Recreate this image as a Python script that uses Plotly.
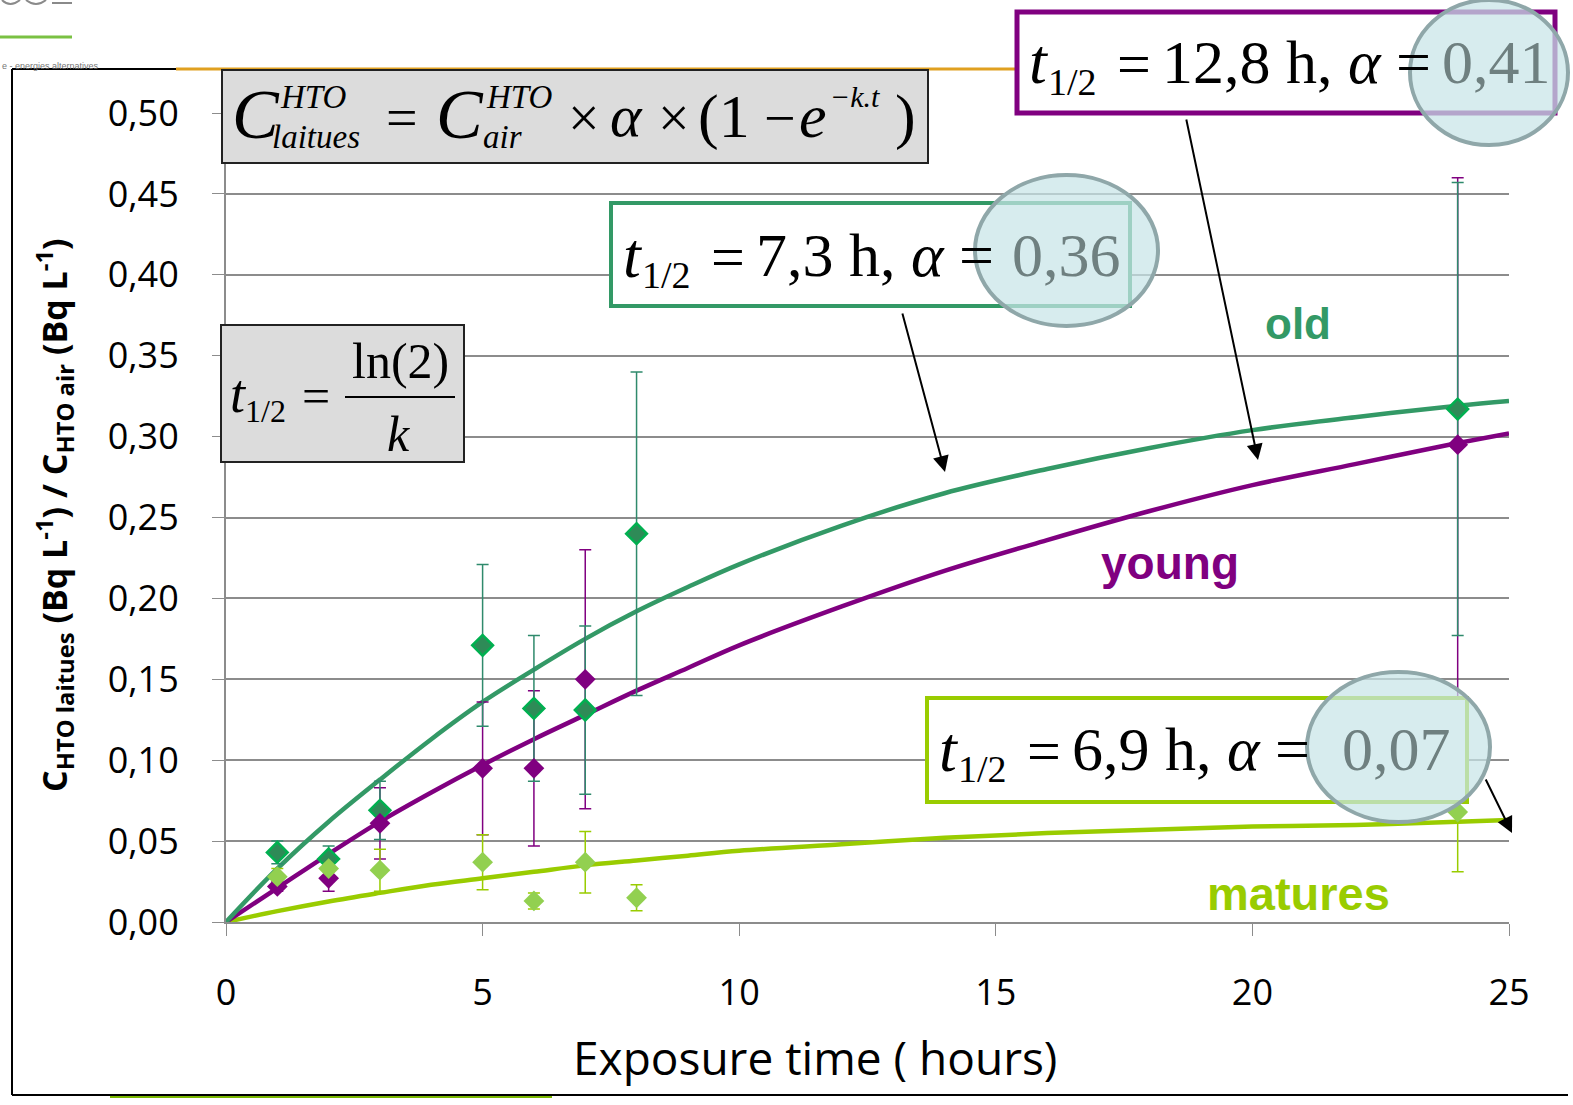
import plotly.graph_objects as go

# ---------------- data ----------------
# measured points (exposure time in hours)
t_old = [1, 2, 3, 5, 6, 7, 8, 24]
old_val = [0.043, 0.039, 0.069, 0.171, 0.132, 0.131, 0.240, 0.317]
old_err = [0.007, 0.008, 0.018, 0.050, 0.045, 0.052, 0.100, 0.140]

t_young = [1, 2, 3, 5, 6, 7, 24]
young_val = [0.022, 0.027, 0.061, 0.095, 0.095, 0.150, 0.295]
young_err = [0.003, 0.008, 0.022, 0.041, 0.048, 0.080, 0.165]

t_mat = [1, 2, 3, 5, 6, 7, 8, 24]
mat_val = [0.028, 0.033, 0.032, 0.037, 0.013, 0.037, 0.015, 0.068]
mat_err = [0.005, 0.008, 0.013, 0.017, 0.005, 0.019, 0.008, 0.037]

# fitted curves
t_fit = [0, 1, 2, 3, 4, 5, 6, 7, 8, 9, 10, 12, 14, 16, 18, 20, 22, 24, 25]
old_fit = [0, 0.033, 0.062, 0.088, 0.113, 0.136, 0.156, 0.175, 0.192, 0.207, 0.221,
           0.245, 0.265, 0.280, 0.293, 0.304, 0.312, 0.319, 0.322]
young_fit = [0, 0.021, 0.042, 0.062, 0.080, 0.097, 0.113, 0.128, 0.143, 0.157, 0.171,
             0.195, 0.217, 0.236, 0.254, 0.270, 0.283, 0.296, 0.302]
mat_fit = [0, 0.0067, 0.0127, 0.018, 0.023, 0.027, 0.031, 0.035, 0.038, 0.041, 0.044,
           0.048, 0.052, 0.055, 0.057, 0.059, 0.060, 0.062, 0.063]

y_ticks = [0, 0.05, 0.10, 0.15, 0.20, 0.25, 0.30, 0.35, 0.40, 0.45, 0.50]
x_ticks = [0, 5, 10, 15, 20, 25]

C_OLD = "#339966"
C_OLD_M = "#2e8b57"
C_OLD_E = "#2f8a6c"
C_YOUNG = "#800080"
C_MAT = "#99cc00"
C_MAT_M = "#92d050"

# ---------------- geometry helpers (pixel -> paper) ----------------
W, H = 1573, 1105
L, R, T, B = 226, 1509, 113, 922


def px(x):
    return (x - L) / (R - L)


def py(y):
    return (B - y) / (B - T)


fig = go.Figure()

# curves
fig.add_trace(go.Scatter(x=t_fit, y=mat_fit, mode="lines", line=dict(color=C_MAT, width=4.5, shape="spline"), hoverinfo="skip"))
fig.add_trace(go.Scatter(x=t_fit, y=young_fit, mode="lines", line=dict(color=C_YOUNG, width=4.5, shape="spline"), hoverinfo="skip"))
fig.add_trace(go.Scatter(x=t_fit, y=old_fit, mode="lines", line=dict(color=C_OLD, width=4.5, shape="spline"), hoverinfo="skip"))

# error bars (young below old)
inv = dict(size=1, color="rgba(0,0,0,0)")
fig.add_trace(go.Scatter(x=t_young, y=young_val, mode="markers", marker=inv,
                         error_y=dict(type="data", array=young_err, color=C_YOUNG, thickness=1.5, width=6)))
fig.add_trace(go.Scatter(x=t_old, y=old_val, mode="markers", marker=inv,
                         error_y=dict(type="data", array=old_err, color=C_OLD_E, thickness=1.5, width=6)))
fig.add_trace(go.Scatter(x=t_mat, y=mat_val, mode="markers", marker=inv,
                         error_y=dict(type="data", array=mat_err, color=C_MAT, thickness=1.5, width=6)))

# markers
fig.add_trace(go.Scatter(x=t_old, y=old_val, mode="markers",
                         marker=dict(symbol="diamond", size=16, color=C_OLD_M, line=dict(color="#00b050", width=2.5))))
fig.add_trace(go.Scatter(x=t_young, y=young_val, mode="markers",
                         marker=dict(symbol="diamond", size=16, color=C_YOUNG, line=dict(width=0))))
fig.add_trace(go.Scatter(x=t_mat, y=mat_val, mode="markers",
                         marker=dict(symbol="diamond", size=16, color=C_MAT_M, line=dict(width=0))))

shapes = []
ann = []


def rect(x0, y0, x1, y1, line_color, fill, width=2):
    shapes.append(dict(type="rect", xref="paper", yref="paper", x0=px(x0), x1=px(x1), y0=py(y1), y1=py(y0),
                       line=dict(color=line_color, width=width), fillcolor=fill, layer="above"))


def ellipse(x0, y0, x1, y1):
    shapes.append(dict(type="circle", xref="paper", yref="paper", x0=px(x0), x1=px(x1), y0=py(y1), y1=py(y0),
                       line=dict(color="#8fa7a9", width=4), fillcolor="rgba(200,228,232,0.72)", layer="above"))


def hline(x0, x1, y, color, width):
    shapes.append(dict(type="line", xref="paper", yref="paper", x0=px(x0), x1=px(x1), y0=py(y), y1=py(y),
                       line=dict(color=color, width=width), layer="above"))


def text(x, y, s, size, color="black", family="Liberation Serif", xanchor="left", yanchor="middle", angle=0):
    ann.append(dict(xref="paper", yref="paper", x=px(x), y=py(y), text=s, showarrow=False,
                    font=dict(size=size, color=color, family=family), xanchor=xanchor, yanchor=yanchor,
                    textangle=angle))


def arrow(x0, y0, x1, y1):
    ann.append(dict(xref="paper", yref="paper", axref="pixel", ayref="pixel",
                    ax=x0 - x1, ay=y0 - y1, x=px(x1), y=py(y1), text="", showarrow=True,
                    arrowhead=2, arrowsize=1.6, arrowwidth=2, arrowcolor="black"))


# outer frame
hline(12, 176, 69, "black", 2)
hline(176, 1016, 69, "#e0a020", 3)
hline(12, 1568, 1095, "black", 2)
hline(110, 552, 1097, "#7ab800", 2)
shapes.append(dict(type="line", xref="paper", yref="paper", x0=px(12), x1=px(12), y0=py(69), y1=py(1095),
                   line=dict(color="black", width=2), layer="above"))
# logo fragments
hline(0, 72, 37, "#7ac143", 3)
shapes.append(dict(type="path", xref="paper", yref="paper",
                   path="M %f %f Q %f %f %f %f" % (px(2), py(0), px(10), py(8), px(20), py(0)),
                   line=dict(color="#8a8a8a", width=2), layer="above"))
shapes.append(dict(type="path", xref="paper", yref="paper",
                   path="M %f %f Q %f %f %f %f" % (px(26), py(0), px(36), py(8), px(46), py(0)),
                   line=dict(color="#8a8a8a", width=2), layer="above"))
hline(52, 72, 3, "#8a8a8a", 2)
text(0, 66, "e - energies alternatives", 9, color="#777777", family="Liberation Sans")

# formula box (top)
rect(222, 70, 928, 163, "#222222", "#dcdcdc", 2)
text(230, 114, "<i>C</i>", 70)
text(278, 97, "<i>HTO</i>", 33)
text(270, 137, "<i>laitues</i>", 33)
text(384, 118, "=", 56)
text(434, 114, "<i>C</i>", 70)
text(484, 97, "<i>HTO</i>", 33)
text(481, 137, "<i>air</i>", 33)
text(566, 118, "×", 56)
text(608, 116, "<i>α</i>", 60)
text(656, 118, "×", 56)
text(696, 116, "(1", 62)
text(762, 118, "−", 56)
text(797, 116, "<i>e</i>", 62)
text(828, 97, "<i>−k.t</i>", 30)
text(893, 116, ")", 62)

# t1/2 = ln(2)/k box
rect(221, 325, 464, 462, "#222222", "#dcdcdc", 2)
text(228, 394, "<i>t</i>", 54)
text(243, 411, "1/2", 32)
text(300, 396, "=", 50)
text(400, 361, "ln(2)", 50, xanchor="center")
text(398, 434, "<i>k</i>", 50, xanchor="center")
hline(345, 455, 397, "black", 2)

# half-life boxes
rect(1017, 12, 1555, 113, C_YOUNG, "white", 5)
rect(611, 203, 1130, 306, C_OLD, "white", 4)
rect(927, 698, 1467, 802, C_MAT, "white", 4)

ellipse(1410, 0, 1568, 145)
ellipse(975, 175, 1158, 326)
ellipse(1307, 672, 1490, 822)

for (bx, by, body, val, vx) in [
    (1027, 62, "12,8 h,", "0,41", 1440),
    (621, 255, "7,3 h,", "0,36", 1010),
    (937, 749, "6,9 h,", "0,07", 1340),
]:
    text(bx, by, "<i>t</i>", 64)
    text(bx + 19, by + 20, "1/2", 38)
    text(bx + 88, by + 2, "=", 60)
    text(bx + 133, by, body + " <i>α</i> =", 62)
    text(vx, by, val, 62, color="#6f8080")

# arrows
arrow(1186, 118, 1258, 460)
arrow(902, 312, 945, 472)
arrow(1485, 778, 1512, 833)

# series labels
text(1298, 323, "<b>old</b>", 44, color=C_OLD, family="Liberation Sans", xanchor="center")
text(1170, 563, "<b>young</b>", 46, color=C_YOUNG, family="Liberation Sans", xanchor="center")
text(1298, 893, "<b>matures</b>", 47, color=C_MAT, family="Liberation Sans", xanchor="center")

# axis titles
text(815, 1057, "Exposure time ( hours)", 46, family="Open Sans", xanchor="center")
text(54, 515, "<b>C<sub>HTO laitues</sub> (Bq L<sup>-1</sup>) / C<sub>HTO air</sub> (Bq L<sup>-1</sup>)</b>", 34,
     family="Open Sans", xanchor="center", angle=-90)

fig.update_layout(
    width=W, height=H,
    margin=dict(l=L, r=W - R, t=T, b=H - B, pad=0),
    paper_bgcolor="white", plot_bgcolor="white",
    showlegend=False,
    separators=", ",
    shapes=shapes, annotations=ann,
    xaxis=dict(range=[0, 25], tickvals=x_ticks, ticks="outside", ticklen=12, tickcolor="#8c8c8c",
               showgrid=False, zeroline=False, showline=True, linecolor="#8c8c8c", linewidth=2,
               tickfont=dict(family="Open Sans", size=36, color="black"), ticklabelstandoff=26),
    yaxis=dict(range=[0, 0.5], tickvals=y_ticks, tickformat=".2f", ticks="outside", ticklen=12,
               tickcolor="#8c8c8c", showgrid=True, gridcolor="#8c8c8c", gridwidth=1.5, zeroline=False,
               showline=True, linecolor="#8c8c8c", linewidth=2,
               tickfont=dict(family="Open Sans", size=36, color="black"), ticklabelstandoff=26),
)

fig.write_html("out.html", config={"displayModeBar": False},
               post_script="document.body.style.margin='0';")
